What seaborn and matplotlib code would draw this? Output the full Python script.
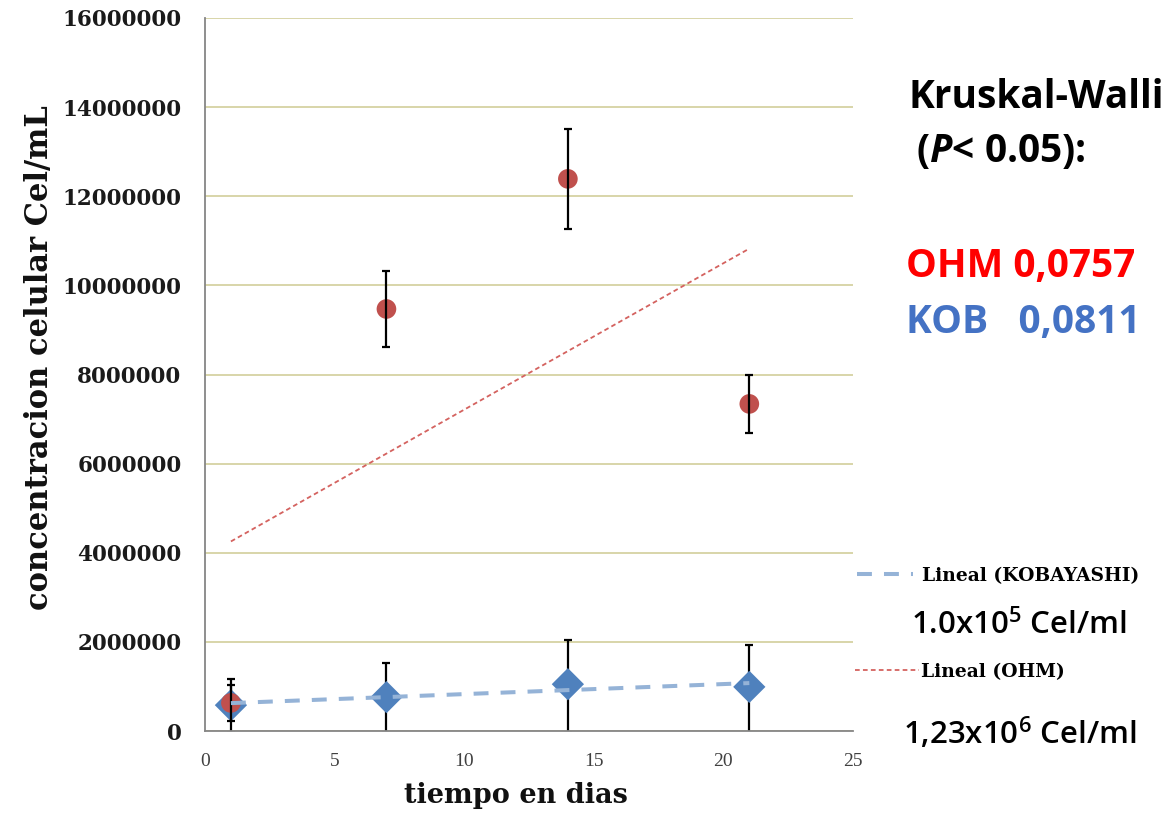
import matplotlib
matplotlib.use("Agg")
import numpy as np
import pandas as pd
import matplotlib.pyplot as plt
import seaborn as sns
from matplotlib.lines import Line2D

# datos
dias = [1, 7, 14, 21]
ohm_media = [630000, 9470000, 12390000, 7340000]
ohm_error = [400000, 850000, 1130000, 650000]
kob_media = [580000, 760000, 1050000, 990000]
kob_error_sup = [590000, 770000, 990000, 940000]
kob_error_inf = [620000, 800000, 1100000, 1050000]  # las barras llegan al eje

yticks = [0, 2000000, 4000000, 6000000, 8000000, 10000000, 12000000, 14000000, 16000000]
ytick_labels = ["0", "2000000", "4000000", "6000000", "8000000",
                "10000000", "12000000", "14000000", "16000000"]
xticks = [0, 5, 10, 15, 20, 25]

df = pd.DataFrame({"dia": dias, "ohm": ohm_media, "kob": kob_media})

sns.set_style("white")
plt.rcParams["text.color"] = "black"
plt.rcParams["mathtext.fontset"] = "custom"
plt.rcParams["mathtext.it"] = "Open Sans:bold:italic"
plt.rcParams["mathtext.rm"] = "Open Sans:bold"

fig = plt.figure(figsize=(11.66, 8.25), dpi=100)
ax = fig.add_axes([205 / 1166, 1 - 731 / 825, 648 / 1166, 713 / 825])

# KOBAYASHI: barras + rombos
ax.errorbar(dias, kob_media, yerr=[kob_error_inf, kob_error_sup], fmt="none",
            ecolor="black", elinewidth=1.6, capsize=3, capthick=1.6, zorder=2)
sns.scatterplot(data=df, x="dia", y="kob", marker="D", s=270, color="#4f81bd",
                edgecolor="none", ax=ax, zorder=3)

# OHM: circulos + barras (las barras quedan encima)
sns.scatterplot(data=df, x="dia", y="ohm", marker="o", s=200, color="#c0504d",
                edgecolor="none", ax=ax, zorder=4)
ax.errorbar(dias, ohm_media, yerr=ohm_error, fmt="none", ecolor="black",
            elinewidth=1.6, capsize=3, capthick=1.6, zorder=5)

# lineas de tendencia
sns.regplot(data=df, x="dia", y="kob", scatter=False, ci=None, ax=ax,
            line_kws=dict(color="#95b3d7", lw=2.9, ls=(0, (3.7, 3)), zorder=6))
sns.regplot(data=df, x="dia", y="ohm", scatter=False, ci=None, ax=ax,
            line_kws=dict(color="#d4625f", lw=1.3, ls=(0, (2.6, 1.8)), zorder=6))

ax.set_xlim(0, 25)
ax.set_ylim(0, 16000000)
ax.set_xticks(xticks)
ax.set_xticklabels([str(v) for v in xticks], family="Liberation Serif",
                   fontsize=14, color="#404040")
ax.set_yticks(yticks)
ax.set_yticklabels(ytick_labels, family="DejaVu Serif", fontweight="bold",
                   fontsize=15.5, color="#1a1a1a")

ax.yaxis.grid(True, color="#d6d2a2", lw=1.3)
ax.xaxis.grid(False)
for s in ["top", "right"]:
    ax.spines[s].set_visible(False)
for s in ["left", "bottom"]:
    ax.spines[s].set_color("#868686")
    ax.spines[s].set_linewidth(1.3)
ax.tick_params(axis="both", direction="out", length=5, width=1.2, color="#868686")
ax.tick_params(axis="x", pad=11)
ax.tick_params(axis="y", pad=12)

ax.set_xlabel("tiempo en dias", family="DejaVu Serif", fontweight="bold",
              fontsize=19.5, color="#111111")
ax.set_ylabel("concentracion celular Cel/mL", family="DejaVu Serif",
              fontweight="bold", fontsize=22, color="#111111")
ax.xaxis.set_label_coords(0.48, -0.072)
ax.yaxis.set_label_coords(-0.232, 0.524)

# leyendas
h_kob = Line2D([], [], color="#95b3d7", lw=2.9, ls=(0, (3.7, 3)))
h_ohm = Line2D([], [], color="#d4625f", lw=1.3, ls=(0, (2.6, 1.8)))
leg_font = dict(family="DejaVu Serif", weight="bold", size=13.5)
leg1 = fig.legend([h_kob], ["Lineal (KOBAYASHI)"], loc="center left",
                  bbox_to_anchor=(840 / 1166, 1 - 576 / 825), frameon=False,
                  prop=leg_font, handlelength=3.0, handletextpad=0.5)
leg2 = fig.legend([h_ohm], ["Lineal (OHM)"], loc="center left",
                  bbox_to_anchor=(838 / 1166, 1 - 672 / 825), frameon=False,
                  prop=leg_font, handlelength=3.4, handletextpad=0.15)

# textos a la derecha
fig.text(908 / 1166, 1 - 108 / 825, "Kruskal-Walli", family="Open Sans",
         fontweight="bold", fontsize=28, color="black", va="baseline")
fig.text(916 / 1166, 1 - 162 / 825, r"($\mathit{P}$< 0.05):", family="Open Sans",
         fontweight="bold", fontsize=28, color="black", va="baseline")
fig.text(906 / 1166, 1 - 277 / 825, "OHM 0,0757", family="Open Sans",
         fontweight="bold", fontsize=28, color="#ff0000", va="baseline")
fig.text(906 / 1166, 1 - 333 / 825, "KOB   0,0811", family="Open Sans",
         fontweight="bold", fontsize=28, color="#4472c4", va="baseline")
fig.text(911 / 1166, 1 - 634 / 825, r"1.0x10$^{\mathregular{5}}$ Cel/ml", family="Open Sans",
         fontweight="semibold", fontsize=22.5, color="black", va="baseline")
fig.text(903 / 1166, 1 - 744 / 825, r"1,23x10$^{\mathregular{6}}$ Cel/ml", family="Open Sans",
         fontweight="semibold", fontsize=22.5, color="black", va="baseline")

fig.savefig("out.png", dpi=100)
